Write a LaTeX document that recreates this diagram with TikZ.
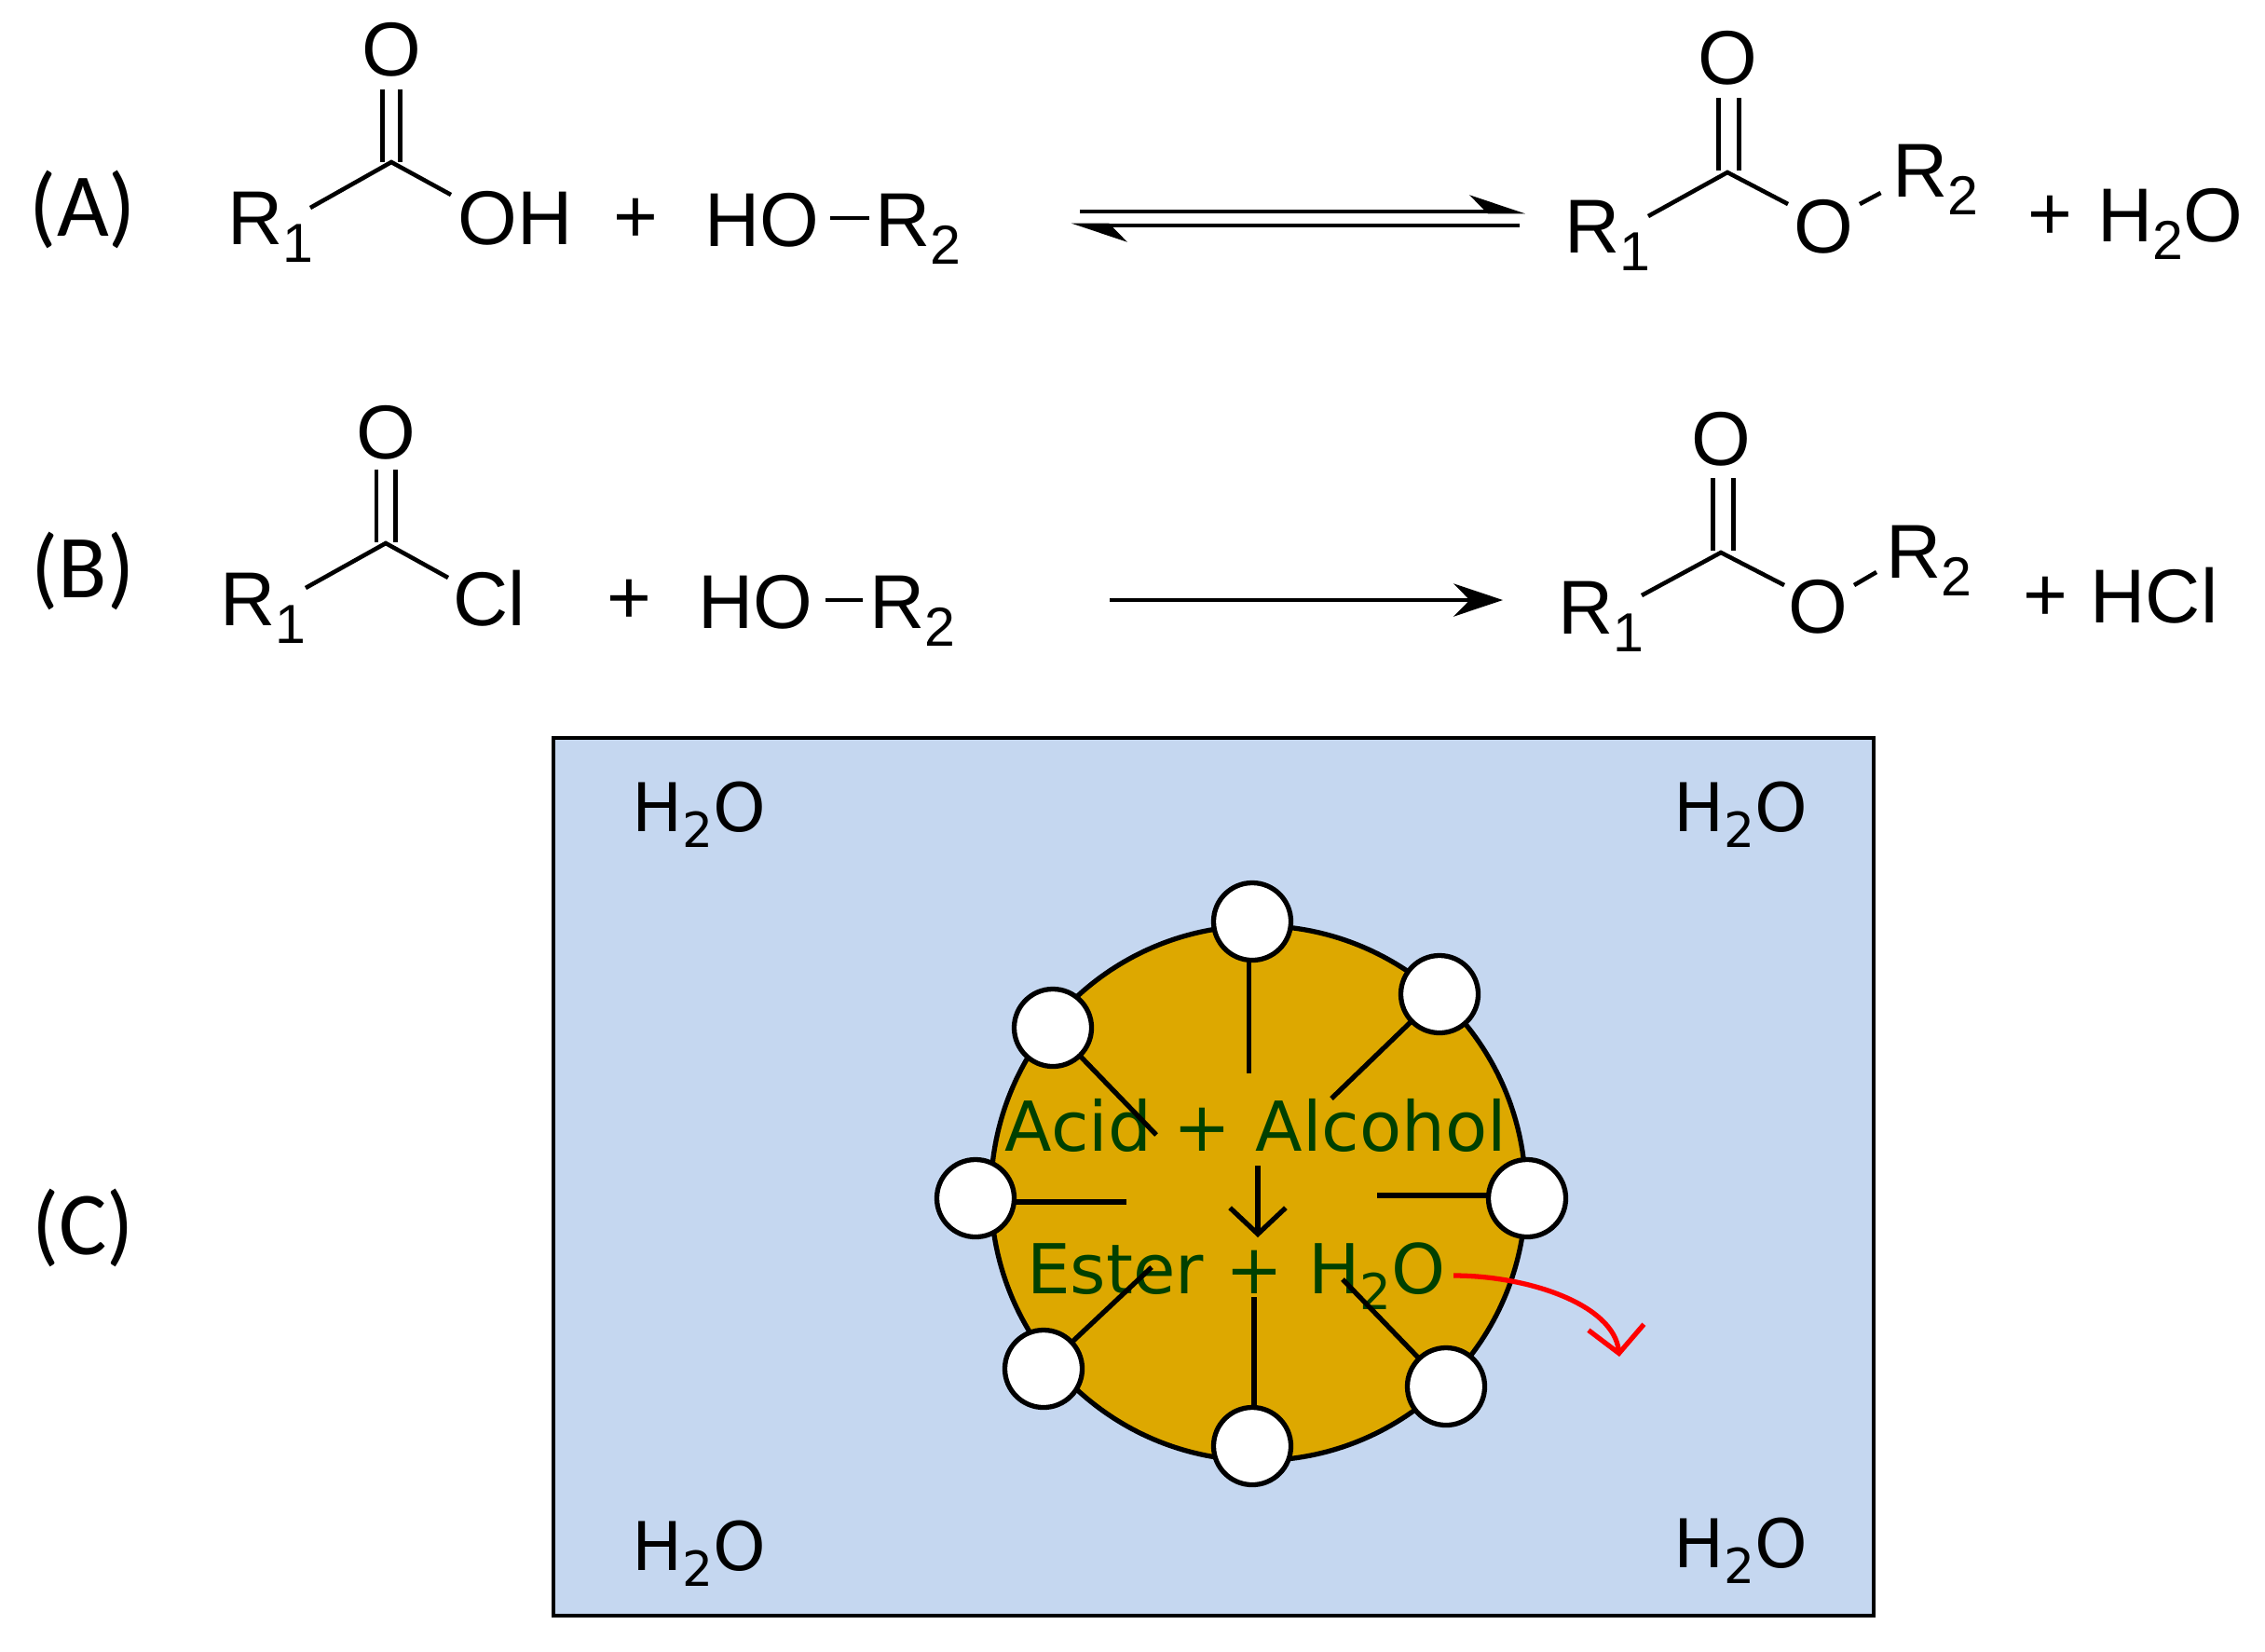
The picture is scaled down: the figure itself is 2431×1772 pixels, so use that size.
\documentclass[tikz,border=0pt]{standalone}
\usepackage{graphicx}
\usepackage{fontspec}
\setmainfont{Liberation Sans}
\newfontfamily\dejafont{DejaVu Sans}
\newfontfamily\partfont{Carlito}
\usetikzlibrary{arrows.meta}
\newcommand{\lowsub}[1]{\raisebox{-0.24em}{\scalebox{0.72}{#1}}}
\definecolor{waterblue}{RGB}{197,215,240}
\definecolor{micelle}{RGB}{221,168,0}
\definecolor{darkgreen}{RGB}{0,64,0}
\tikzset{
    chemtext/.style={inner sep=0pt, anchor=base west, font=\fontsize{23.3}{27}\selectfont},
    chemO/.style={inner sep=0pt, font=\fontsize{23.3}{27}\selectfont},
    parttext/.style={inner sep=0pt, font=\partfont\fontsize{27.4}{32}\selectfont},
    watertext/.style={inner sep=0pt, anchor=base west, font=\dejafont\fontsize{20.5}{24}\selectfont},
    mixtext/.style={inner sep=0pt, anchor=base, text=darkgreen, font=\dejafont\fontsize{21}{25}\selectfont},
    bond/.style={line width=1.3pt},
    tail/.style={line width=1.5pt},
    head/.style={circle, draw, fill=white, line width=1.5pt, minimum size=83*0.2845pt, inner sep=0pt}
}
\begin{document}
\begin{tikzpicture}[x=0.01cm,y=-0.01cm]
    \useasboundingbox (0,0) rectangle (2431,1772);

    % row A
    \node[parttext] (partA) at (89,225) {(A)};
    \node[chemO] (oA) at (420,53) {O};
    \coordinate (apexA) at (420,174);
    \coordinate (dblAa) at (410.5,95.5);
    \coordinate (dblAb) at (429.5,95.5);
    \coordinate (apexAa) at (410.5,174);
    \coordinate (apexAb) at (429.5,174);
    \coordinate (leftA) at (333,223);
    \coordinate (rightA) at (484,209);
    \draw[bond] (dblAa) to (apexAa) (dblAb) to (apexAb);
    \draw[bond] (leftA) to (apexA) to (rightA);
    \node[chemtext] (rA) at (244,262) {R\lowsub{1}};
    \node[chemtext] (ohA) at (491,262) {OH};
    \node[chemO] (plusA) at (682,237) {+};
    \node[chemtext] (hoA) at (756,264) {HO};
    \coordinate (dashAa) at (891,234);
    \coordinate (dashAb) at (933,234);
    \draw[bond] (dashAa) to (dashAb);
    \node[chemtext] (rbA) at (939,264) {R\lowsub{2}};

    \coordinate (eqAa) at (1159,227);
    \coordinate (eqAb) at (1637,227);
    \coordinate (eqAc) at (1631,242);
    \coordinate (eqAd) at (1150,242);
    \draw[bond, -{Stealth[harpoon,length=15pt,width=10pt]}] (eqAa) to (eqAb);
    \draw[bond, -{Stealth[harpoon,length=15pt,width=10pt]}] (eqAc) to (eqAd);

    \node[chemO] (opA) at (1854,62) {O};
    \coordinate (apexP) at (1854,185);
    \coordinate (dblPa) at (1844.5,105);
    \coordinate (dblPb) at (1866.5,105);
    \coordinate (apexPa) at (1844.5,183);
    \coordinate (apexPb) at (1866.5,183);
    \coordinate (leftP) at (1769,232);
    \coordinate (rightP) at (1919,219);
    \coordinate (estPa) at (1996,219);
    \coordinate (estPb) at (2018.5,207);
    \draw[bond] (dblPa) to (apexPa) (dblPb) to (apexPb);
    \draw[bond] (leftP) to (apexP) to (rightP);
    \draw[bond] (estPa) to (estPb);
    \node[chemtext] (rpA) at (1679,271) {R\lowsub{1}};
    \node[chemO] (oeA) at (1957,243) {O};
    \node[chemtext] (rbpA) at (2031,211) {R\lowsub{2}};
    \node[chemO] (plusPA) at (2200,234) {+};
    \node[chemtext] (waterP) at (2251,259) {H\lowsub{2}O};

    % row B
    \node[parttext] (partB) at (89,613) {(B)};
    \node[chemO] (oB) at (414,464) {O};
    \coordinate (apexB) at (414,583);
    \coordinate (dblBa) at (404,504);
    \coordinate (dblBb) at (424.5,504);
    \coordinate (apexBa) at (404,582);
    \coordinate (apexBb) at (424.5,582);
    \coordinate (leftB) at (328,631);
    \coordinate (rightB) at (481,620);
    \draw[bond] (dblBa) to (apexBa) (dblBb) to (apexBb);
    \draw[bond] (leftB) to (apexB) to (rightB);
    \node[chemtext] (rB) at (236,671) {R\lowsub{1}};
    \node[chemtext] (clB) at (486,671) {Cl};
    \node[chemO] (plusB) at (675,646) {+};
    \node[chemtext] (hoB) at (749,674) {HO};
    \coordinate (dashBa) at (886,644);
    \coordinate (dashBb) at (926,644);
    \draw[bond] (dashBa) to (dashBb);
    \node[chemtext] (rbB) at (933,674) {R\lowsub{2}};

    \coordinate (arrBa) at (1191,644);
    \coordinate (arrBb) at (1613,644);
    \draw[bond, -{Stealth[length=15pt,width=10pt]}] (arrBa) to (arrBb);

    \node[chemO] (opB) at (1847,471) {O};
    \coordinate (apexQ) at (1847,593);
    \coordinate (dblQa) at (1838.5,513);
    \coordinate (dblQb) at (1860.5,513);
    \coordinate (apexQa) at (1838.5,591);
    \coordinate (apexQb) at (1860.5,591);
    \coordinate (leftQ) at (1762,639);
    \coordinate (rightQ) at (1915,628);
    \coordinate (estQa) at (1990,628);
    \coordinate (estQb) at (2014,614);
    \draw[bond] (dblQa) to (apexQa) (dblQb) to (apexQb);
    \draw[bond] (leftQ) to (apexQ) to (rightQ);
    \draw[bond] (estQa) to (estQb);
    \node[chemtext] (rpB) at (1672,680) {R\lowsub{1}};
    \node[chemO] (oeB) at (1951,651) {O};
    \node[chemtext] (rbpB) at (2024,620) {R\lowsub{2}};
    \node[chemO] (plusPB) at (2195,643) {+};
    \node[chemtext] (hclP) at (2243,668) {HCl};

    % row C
    \node[parttext] (partC) at (89,1318) {(C)};
    \draw[fill=waterblue, line width=1.4pt] (594,792) rectangle (2011,1734);
    \node[watertext] (waterTL) at (678,892) {H\lowsub{2}O};
    \node[watertext] (waterTR) at (1796,892) {H\lowsub{2}O};
    \node[watertext] (waterBL) at (678,1685) {H\lowsub{2}O};
    \node[watertext] (waterBR) at (1796,1682) {H\lowsub{2}O};

    \draw[fill=micelle, line width=1.5pt] (1350.5,1280.5) circle (287);
    \node[mixtext] (acid) at (1348,1235) {Acid +\hspace{7.5pt}Alcohol};
    \node[mixtext] (ester) at (1327,1388) {Ester +\hspace{1pt} H\lowsub{2}O};

    \coordinate (reactA) at (1350,1251);
    \coordinate (reactB) at (1350,1328);
    \draw[tail, -{Straight Barb[length=8pt,width=17pt]}] (reactA) to (reactB);

    \foreach \nm/\hx/\hy/\sx/\sy/\tx/\ty in {
        top/1344/989/1340.5/1000/1340.5/1152,
        topright/1545/1067/1545/1067/1429/1179,
        topleft/1130/1103/1130/1103/1241/1218,
        left/1047/1286/1060/1290/1209/1290,
        right/1639/1286/1620/1283/1478/1283,
        botleft/1120/1469/1120/1469/1236/1360,
        bot/1344/1552/1346/1530/1346/1392,
        botright/1552/1488/1552/1488/1441/1373}{
        \coordinate (start\nm) at (\sx,\sy);
        \coordinate (end\nm) at (\tx,\ty);
        \draw[tail] (start\nm) to (end\nm);
        \node[head] (head\nm) at (\hx,\hy) {};
    }

    \coordinate (outA) at (1560,1369);
    \coordinate (outB) at (1738,1456);
    \draw[red, line width=1.5pt, -{Straight Barb[length=8pt,width=17pt]}] (outA) .. controls (1640,1369) and (1732,1400) .. (outB);
\end{tikzpicture}
\end{document}
